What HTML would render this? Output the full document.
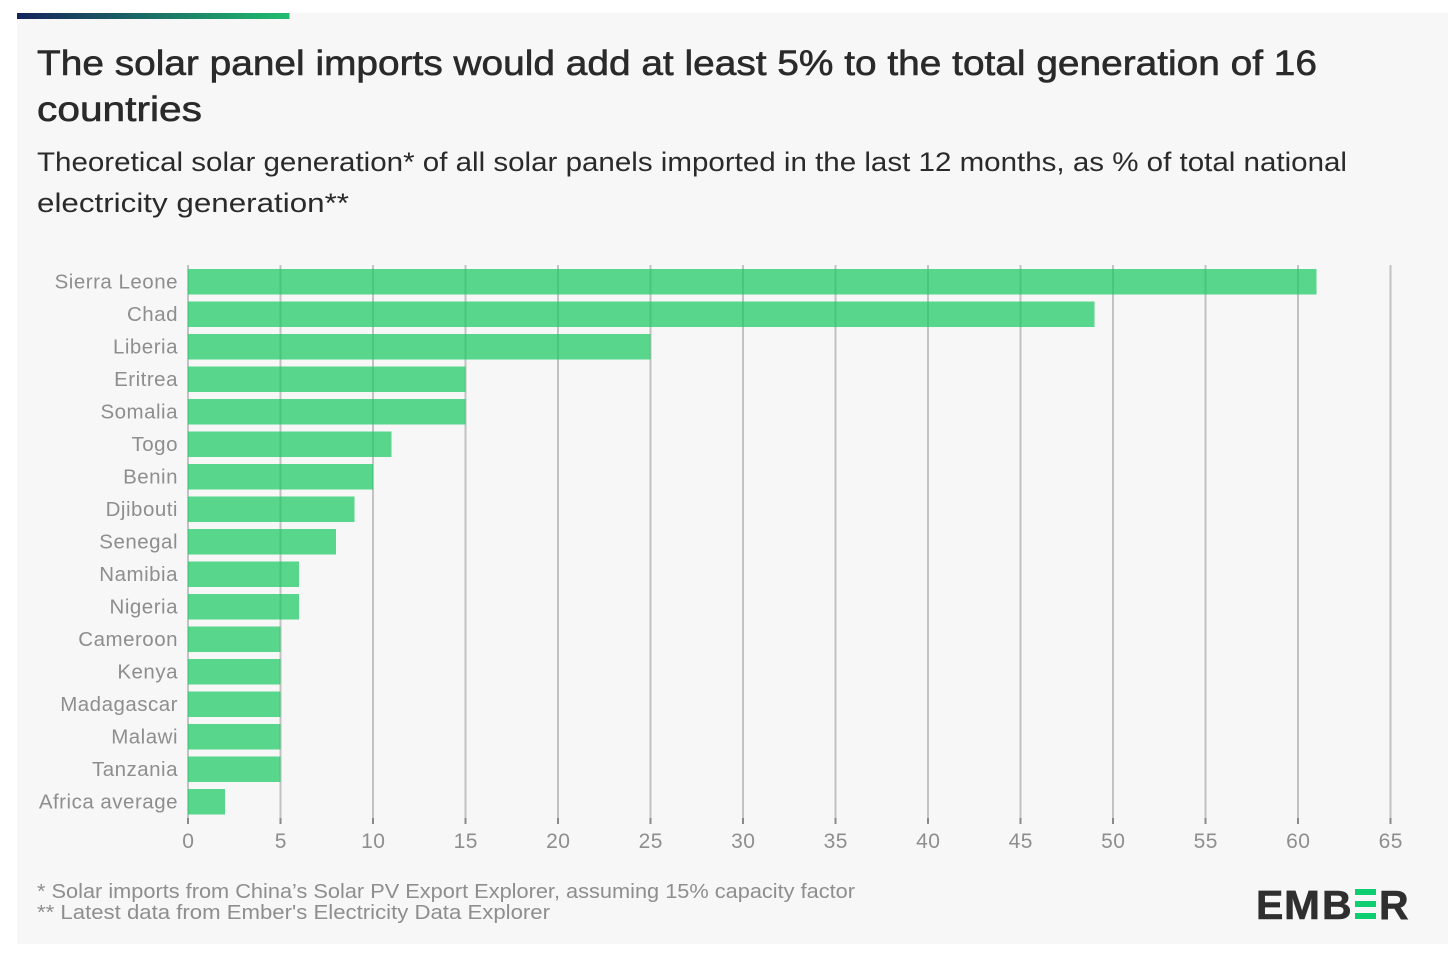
<!DOCTYPE html>
<html><head><meta charset="utf-8"><title>Solar imports chart</title>
<style>
html,body{margin:0;padding:0;background:#fff;width:1456px;height:956px;overflow:hidden}
svg{display:block;font-family:"Liberation Sans",sans-serif}
</style></head>
<body>
<svg id="chart" width="1456" height="956" viewBox="0 0 1456 956" xmlns="http://www.w3.org/2000/svg">
<defs><linearGradient id="topGrad" x1="0" x2="1" y1="0" y2="0"><stop offset="0" stop-color="#14235c"/><stop offset="1" stop-color="#22bd6e"/></linearGradient></defs>
<rect x="17" y="13" width="1431" height="931" fill="#f7f7f7"/>
<rect x="17" y="13" width="272.5" height="6" fill="url(#topGrad)"/>
<text x="37" y="75" font-size="35" font-weight="400" fill="#2a2a2a" stroke="#2a2a2a" stroke-width="0.6" textLength="1280" lengthAdjust="spacingAndGlyphs">The solar panel imports would add at least 5% to the total generation of 16</text>
<text x="37" y="121" font-size="35" font-weight="400" fill="#2a2a2a" stroke="#2a2a2a" stroke-width="0.6" textLength="165" lengthAdjust="spacingAndGlyphs">countries</text>
<text x="37" y="171" font-size="27" fill="#2a2a2a" textLength="1310" lengthAdjust="spacingAndGlyphs">Theoretical solar generation* of all solar panels imported in the last 12 months, as % of total national</text>
<text x="37" y="212" font-size="27" fill="#2a2a2a" textLength="312" lengthAdjust="spacingAndGlyphs">electricity generation**</text>
<g id="grid"></g>
<g id="bars"></g>
<g id="yLabels"></g>
<g id="xLabels"></g>
<text x="37" y="898" font-size="20" fill="#8e8e8e" textLength="818" lengthAdjust="spacingAndGlyphs">* Solar imports from China’s Solar PV Export Explorer, assuming 15% capacity factor</text>
<text x="37" y="919" font-size="20" fill="#8e8e8e" textLength="513" lengthAdjust="spacingAndGlyphs">** Latest data from Ember's Electricity Data Explorer</text>
<g>
<text x="1256" y="919" font-size="41" font-weight="700" fill="#2f2f2f" stroke="#2f2f2f" stroke-width="0.6">E</text>
<text x="1284" y="919" font-size="41" font-weight="700" fill="#2f2f2f" stroke="#2f2f2f" stroke-width="0.6" textLength="36" lengthAdjust="spacingAndGlyphs">M</text>
<text x="1322" y="919" font-size="41" font-weight="700" fill="#2f2f2f" stroke="#2f2f2f" stroke-width="0.6">B</text>
<rect x="1355" y="889" width="21" height="6" fill="#0fce72"/>
<rect x="1355" y="901" width="21" height="6" fill="#0fce72"/>
<rect x="1355" y="913" width="21" height="6" fill="#0fce72"/>
<text x="1379" y="919" font-size="41" font-weight="700" fill="#2f2f2f" stroke="#2f2f2f" stroke-width="0.6">R</text>
</g>
</svg>
<script>
const categories = ["Sierra Leone","Chad","Liberia","Eritrea","Somalia","Togo","Benin","Djibouti","Senegal","Namibia","Nigeria","Cameroon","Kenya","Madagascar","Malawi","Tanzania","Africa average"];
const seriesValues = [61,49,25,15,15,11,10,9,8,6,6,5,5,5,5,5,2];
const xTicks = [0,5,10,15,20,25,30,35,40,45,50,55,60,65];

const NS = "http://www.w3.org/2000/svg";
const xOf = v => 188 + v * (1390.5 - 188) / 65;
const yOf = i => 269 + i * 32.5;
const bandH = 25.5;
function mk(tag, attrs, parent, text) {
  const el = document.createElementNS(NS, tag);
  for (const k in attrs) el.setAttribute(k, attrs[k]);
  if (text !== undefined) el.textContent = text;
  parent.appendChild(el);
  return el;
}
const gGrid = document.getElementById('grid');
const gBars = document.getElementById('bars');
const gY = document.getElementById('yLabels');
const gX = document.getElementById('xLabels');

xTicks.forEach(t => {
  const line = mk('line', {x1: xOf(t), x2: xOf(t), y1: 265, y2: 818, stroke: '#c2c2c2', 'stroke-width': 2}, gGrid);
  
  
  const tick = mk('line', {x1: xOf(t), x2: xOf(t), y1: 818, y2: 824, stroke: '#8a8a8a', 'stroke-width': 2}, gGrid);
  
  
  const label = mk('text', {x: xOf(t) + 0.3, y: 848, 'text-anchor': 'middle', 'font-size': 21, 'letter-spacing': 0.5, fill: '#8e8e8e'}, gX, String(t));
  
  
});

categories.forEach((c, i) => {
  const bar = mk('rect', {x: xOf(0), y: yOf(i), width: xOf(seriesValues[i]) - xOf(0), height: bandH, fill: '#19c963', 'fill-opacity': 0.72}, gBars);
  
  
  const label = mk('text', {x: 178, y: yOf(i) + 19.3, 'text-anchor': 'end', 'font-size': 20.5, 'letter-spacing': 0.5, fill: '#8e8e8e'}, gY, c);
  
  
});
</script>
</body></html>
